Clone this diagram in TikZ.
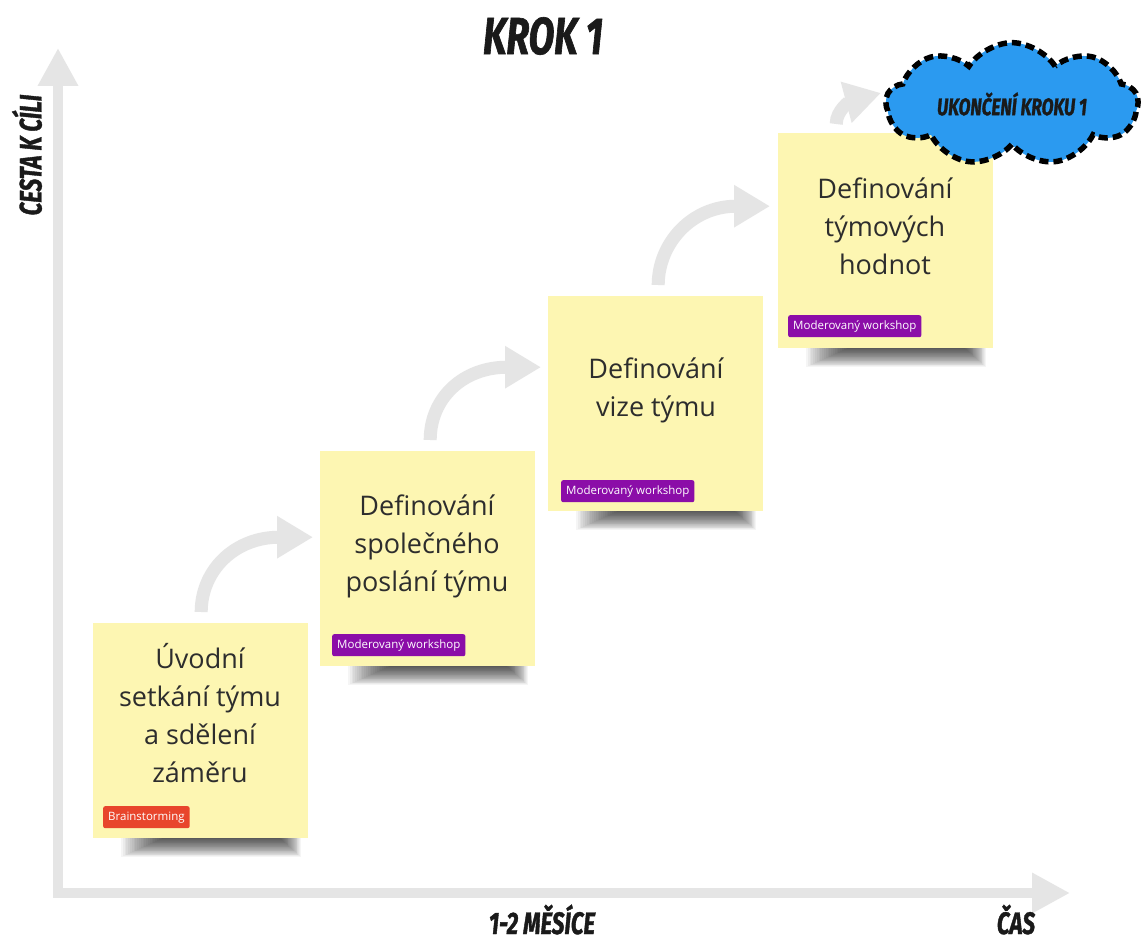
\documentclass[tikz,border=0pt]{standalone}
\usepackage{fontspec}
\setmainfont{Open Sans}
\newfontfamily\comicfont{Fira Sans}[FakeStretch=0.72, FakeBold=1.2]
\usetikzlibrary{arrows.meta,shapes.symbols}

\definecolor{notefill}{RGB}{253,246,178}
\definecolor{notetextcol}{RGB}{45,45,45}
\definecolor{arrowgray}{RGB}{229,229,229}
\definecolor{cloudblue}{RGB}{43,154,240}
\definecolor{tagred}{RGB}{232,69,44}
\definecolor{tagpurple}{RGB}{139,13,168}
\definecolor{inkcol}{RGB}{26,26,26}

\tikzset{
  notebox/.style={rectangle, fill=notefill, minimum width=215pt, minimum height=215pt,
    inner sep=0pt, anchor=north west},
  notetext/.style={font=\fontsize{27}{38}\selectfont, text=notetextcol, align=center},
  tagbox/.style={rectangle, rounded corners=2pt, anchor=north west, minimum height=22pt,
    inner xsep=5pt, inner ysep=0pt, text=white, font=\fontsize{11.5}{12}\selectfont},
  redtag/.style={tagbox, fill=tagred},
  purpletag/.style={tagbox, fill=tagpurple},
  steparrow/.style={line width=13pt, draw=arrowgray, -{Triangle[length=36pt,width=40pt]}},
  axisline/.style={line width=10pt, draw=arrowgray, line join=miter,
    {Triangle[length=38pt,width=38pt]}-{Triangle[length=38pt,width=38pt]}},
  comicbig/.style={font=\comicfont\bfseries\itshape\fontsize{52}{52}\selectfont, text=inkcol},
  comicaxis/.style={font=\comicfont\bfseries\itshape\fontsize{31}{31}\selectfont, text=inkcol},
  goalcloud/.style={cloud, cloud puffs=9, cloud puff arc=115, aspect=2.4,
    minimum width=252pt, minimum height=95pt, inner sep=0pt,
    fill=cloudblue, draw=black, line width=5.5pt, dash pattern=on 9pt off 5pt,
    font=\comicfont\bfseries\itshape\fontsize{24}{24}\selectfont, text=inkcol},
}

% soft cast shadow below a note: stacked faint rectangles, each one inset further
\newcommand\castshadow[2]{%
  \foreach \k in {0,1,...,23}{%
    \fill[black, opacity=0.04]
      (#1+28+1.8*\k, #2-30+\k) rectangle (#1+208-0.9*\k, #2+19-0.8*\k);
  }%
}

\begin{document}
\begin{tikzpicture}[x=1pt, y=-1pt]
  \useasboundingbox[fill=white] (0,0) rectangle (1141,941);

  % axes
  \coordinate (ytip) at (58,48);
  \coordinate (origin) at (58,893);
  \coordinate (xtip) at (1070,893);
  \draw[axisline] (ytip) -- (origin) -- (xtip);

  % axis labels and title
  \node[comicbig] (title) at (543,36) {KROK 1};
  \node[comicaxis, rotate=90] (ylabel) at (27,155) {CESTA K CÍLI};
  \node[comicaxis, anchor=base] (period) at (542,934) {1-2 MĚSÍCE};
  \node[comicaxis, anchor=base] (xlabel) at (1016,934) {ČAS};

  % shadows under the notes (x of the note's left edge, y of its bottom edge)
  \castshadow{93}{838}
  \castshadow{320}{666}
  \castshadow{548}{511}
  \castshadow{778}{348}

  % sticky notes
  \node[notebox] (n1) at (93,623) {};
  \node[notebox] (n2) at (320,451) {};
  \node[notebox] (n3) at (548,296) {};
  \node[notebox] (n4) at (778,133) {};

  % goal cloud
  \node[goalcloud] (goal) at (1012,104) {UKONČENÍ KROKU 1};

  % step arrows
  \draw[steparrow] ([xshift=0.5pt,yshift=11pt]n1.north)
    .. controls +(0,-42) and +(-78,0) .. ([xshift=-7pt,yshift=21.5pt]n2.west);
  \draw[steparrow] ([xshift=2.5pt,yshift=11pt]n2.north)
    .. controls +(0,-42) and +(-78,0) .. ([xshift=-7pt,yshift=36.5pt]n3.west);
  \draw[steparrow] ([xshift=2.5pt,yshift=11pt]n3.north)
    .. controls +(0,-42) and +(-78,0) .. ([xshift=-8pt,yshift=34.5pt]n4.west);
  \draw[steparrow] ([xshift=-49.5pt,yshift=9pt]n4.north)
    .. controls +(0,-14) and +(-30,8) .. ([xshift=-2pt,yshift=11pt]goal.west);

  % note texts
  \node[notetext] (t1) at (200,713) {Úvodní\\setkání týmu\\a sdělení\\záměru};
  \node[notetext] (t2) at (427,546) {Definování\\společného\\poslání týmu};
  \node[notetext] (t3) at (656,390) {Definování\\vize týmu};
  \node[notetext] (t4) at (885,226) {Definování\\týmových\\hodnot};

  % tags
  \node[redtag] (g1) at (103,806) {Brainstorming};
  \node[purpletag] (g2) at (332,634) {Moderovaný workshop};
  \node[purpletag] (g3) at (561,480) {Moderovaný workshop};
  \node[purpletag] (g4) at (788,315) {Moderovaný workshop};
\end{tikzpicture}
\end{document}
